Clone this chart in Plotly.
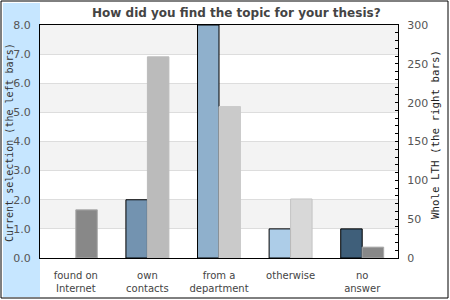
import plotly.graph_objects as go

categories = ["found on<br>Internet", "own<br>contacts", "from a<br>department", "otherwise", "no<br>answer"]
current_selection = [None, 2, 8, 1, 1]
whole_lth = [62, 259, 195, 76, 14]
left_colors = ["#7393B0", "#7393B0", "#8FB0CC", "#ADCDE8", "#3F5F7A"]
right_colors = ["#888888", "#BBBBBB", "#CACACA", "#D8D8D8", "#888888"]
right_line_colors = ["#AAAAAA", "#BBBBBB", "#CACACA", "#C4C4C4", "#AAAAAA"]
left_ticks = [0, 1, 2, 3, 4, 5, 6, 7, 8]
right_ticks = [0, 50, 100, 150, 200, 250, 300]

W, H = 450, 300
ML, MR, MT, MB = 40, 52, 25, 42
PW, PH = W - ML - MR, H - MT - MB

def px(x):
    return (x - ML) / PW

def py(y):
    return (H - MB - y) / PH

fig = go.Figure()
fig.add_trace(go.Bar(
    x=categories, y=current_selection, yaxis="y", offsetgroup="a",
    marker=dict(color=left_colors, line=dict(color="black", width=1)),
    name="Current selection", showlegend=False))
fig.add_trace(go.Bar(
    x=categories, y=whole_lth, yaxis="y2", offsetgroup="b",
    marker=dict(color=right_colors, line=dict(color=right_line_colors, width=1)),
    name="Whole LTH", showlegend=False))

shapes = []
shapes.append(dict(type="rect", xref="paper", yref="paper", x0=px(3), x1=px(40), y0=py(297), y1=py(3),
                   fillcolor="#C6E6FF", line=dict(width=0), layer="below"))
for lo in [1, 3, 5, 7]:
    shapes.append(dict(type="rect", xref="paper", yref="y", x0=0, x1=1, y0=lo, y1=lo + 1,
                       fillcolor="#F3F3F3", line=dict(width=0), layer="below"))
shapes.append(dict(type="rect", xref="paper", yref="paper", x0=px(1), x1=px(448), y0=py(298), y1=py(1),
                   fillcolor="rgba(0,0,0,0)", line=dict(color="black", width=1), layer="above"))

fig.update_layout(
    width=W, height=H,
    margin=dict(l=ML, r=MR, t=MT, b=MB, pad=0, autoexpand=False),
    paper_bgcolor="white", plot_bgcolor="white",
    barmode="group", bargap=0.4, bargroupgap=0,
    shapes=shapes,
    title=dict(text="How did you find the topic for your thesis?", x=px(228), xanchor="center",
               y=1 - 12.5 / H, yanchor="middle",
               font=dict(family="DejaVu Sans", size=12, color="#444444", weight="bold")),
    xaxis=dict(showline=True, linecolor="black", linewidth=1, mirror=True, automargin=False,
               ticks="", ticklabelstandoff=8,
               tickfont=dict(family="DejaVu Sans", size=10, color="#444444")),
    yaxis=dict(range=[0, 8], tickvals=left_ticks, ticktext=[f"{v:.1f}" for v in left_ticks],
               showline=True, linecolor="black", linewidth=1, ticks="", automargin=False,
               showgrid=True, gridcolor="#DDDDDD", gridwidth=1, zeroline=False,
               ticklabelstandoff=6,
               tickfont=dict(family="DejaVu Sans", size=11, color="#555555")),
    yaxis2=dict(range=[0, 300], overlaying="y", side="right", tickvals=right_ticks, automargin=False,
                showline=True, linecolor="black", linewidth=1, showgrid=False, zeroline=False,
                ticks="inside", ticklen=3, tickcolor="black",
                minor=dict(dtick=10, ticks="inside", ticklen=3, tickcolor="black"),
                ticklabelstandoff=6,
                tickfont=dict(family="DejaVu Sans", size=11, color="#555555")),
    annotations=[
        dict(text="Current selection (the left bars)", xref="paper", yref="paper",
             x=px(9.5), y=py(142.5), xanchor="center", yanchor="middle", textangle=-90, showarrow=False,
             font=dict(family="DejaVu Sans Mono", size=10, color="#333333")),
        dict(text="Whole LTH (the right bars)", xref="paper", yref="paper",
             x=px(435.5), y=py(134.5), xanchor="center", yanchor="middle", textangle=-90, showarrow=False,
             font=dict(family="DejaVu Sans Mono", size=10.8, color="#222222")),
    ],
)

fig.write_html("out.html")
